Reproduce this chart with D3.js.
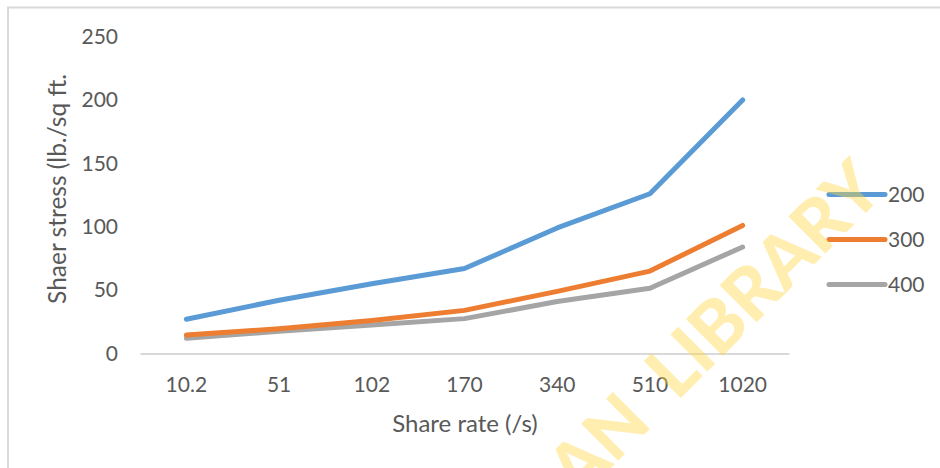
<!DOCTYPE html>
<html>
<head>
<meta charset="utf-8">
<script src="https://cdn.jsdelivr.net/npm/d3@7"></script>
<style>
  html, body { margin: 0; padding: 0; background: #fff; }
  svg { display: block; }
  text { font-family: Lato, "Open Sans", sans-serif; fill: #595959; }
</style>
</head>
<body>
<svg id="chart" width="940" height="468"></svg>
<script>
// Shear rate categories (/s) and shear stress readings for each series
const shearRates = ["10.2", "51", "102", "170", "340", "510", "1020"];
const seriesNames = ["200", "300", "400"];
const stress200 = [27, 42, 55, 67, 99, 126, 200];
const stress300 = [14.5, 19.5, 26, 34, 49, 65, 101];
const stress400 = [12, 17.5, 22.5, 27.5, 41, 51.5, 84];
const yTicks = [0, 50, 100, 150, 200, 250];
const colors = ["#5B9BD5", "#ED7D31", "#A5A5A5"];

const svg = d3.select("#chart");

// Outer chart frame (right and bottom edges fall outside the view)
svg.append("rect")
  .attr("x", 8).attr("y", 7.5)
  .attr("width", 960).attr("height", 500)
  .attr("fill", "none")
  .attr("stroke", "#D9D9D9")
  .attr("stroke-width", 2);

const x = d3.scaleBand().domain(shearRates).range([140, 789]);
const y = d3.scaleLinear().domain([0, 250]).range([353.5, 36.5]);

// Horizontal category axis line
const xAxis = d3.axisBottom(x).tickSize(0).tickPadding(0);
const gx = svg.append("g").attr("transform", `translate(0,${y(0)})`).call(xAxis);
gx.select(".domain").attr("stroke", "#D9D9D9").attr("stroke-width", 2);
gx.selectAll(".tick text")
  .attr("y", 31)
  .attr("dy", "0.35em")
  .style("font-size", "21px")
  .style("fill", "#595959");

// Value axis: labels only
const yAxis = d3.axisLeft(y).tickValues(yTicks).tickSize(0).tickPadding(0);
const gy = svg.append("g").attr("transform", "translate(118,0)").call(yAxis);
gy.select(".domain").remove();
gy.selectAll(".tick text")
  .attr("x", 0)
  .style("font-size", "21px")
  .style("fill", "#595959");

// Axis titles
svg.append("text")
  .attr("x", 465).attr("y", 432)
  .attr("text-anchor", "middle")
  .style("font-size", "24px")
  .text("Share rate (/s)");

svg.append("text")
  .attr("transform", "translate(66,189) rotate(-90)")
  .attr("text-anchor", "middle")
  .style("font-size", "24.5px")
  .text("Shaer stress (lb./sq ft.");

// Series lines
const seriesData = [stress200, stress300, stress400];
const line = d3.line()
  .x((d, i) => x(shearRates[i]) + x.bandwidth() / 2)
  .y(d => y(d));

svg.append("g").selectAll("path")
  .data(seriesData.slice().reverse())
  .join("path")
  .attr("d", line)
  .attr("fill", "none")
  .attr("stroke", (d, i) => colors[colors.length - 1 - i])
  .attr("stroke-width", 5)
  .attr("stroke-linecap", "round")
  .attr("stroke-linejoin", "round");

// Legend
const legend = svg.append("g");
seriesNames.forEach((name, i) => {
  const ly = 194.5 + i * 45;
  legend.append("line")
    .attr("x1", 829).attr("x2", 885)
    .attr("y1", ly).attr("y2", ly)
    .attr("stroke", colors[i])
    .attr("stroke-width", 5)
    .attr("stroke-linecap", "round");
  legend.append("text")
    .attr("x", 888).attr("y", ly)
    .attr("dy", "0.36em")
    .style("font-size", "21px")
    .text(name);
});

// Library watermark stamped across the chart
svg.append("text")
  .attr("transform", "translate(714,328) rotate(-45)")
  .attr("text-anchor", "middle")
  .attr("dy", "0.36em")
  .style("font-family", "Lato, sans-serif")
  .style("font-weight", 900)
  .style("font-size", "72px")
  .style("word-spacing", "16px")
  .style("fill", "#FFD740")
  .style("fill-opacity", 0.42)
  .text("AN LIBRARY");
</script>
</body>
</html>
